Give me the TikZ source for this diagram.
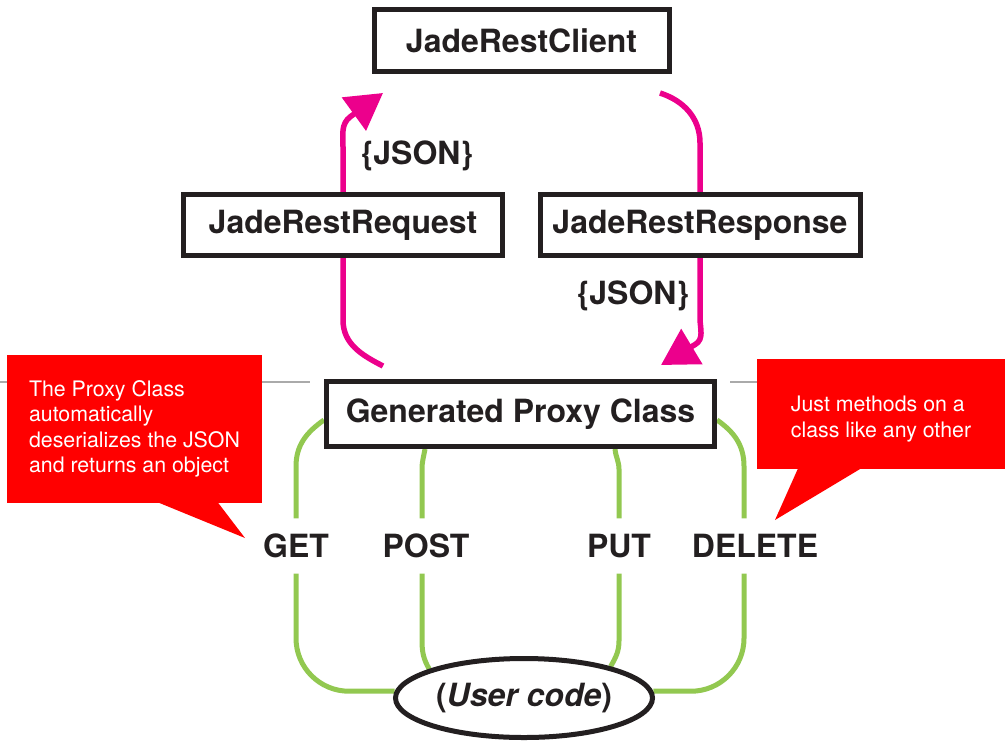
\documentclass[tikz,border=0pt]{standalone}
\usepackage{fontspec}
\setmainfont{TeX Gyre Heros}
\usetikzlibrary{arrows.meta,backgrounds,shapes.geometric}

\definecolor{inkblack}{RGB}{35,31,32}
\definecolor{jadepink}{RGB}{236,0,140}
\definecolor{jadegreen}{RGB}{146,200,80}
\definecolor{notered}{RGB}{255,0,0}
\definecolor{rulegray}{RGB}{170,170,170}

\tikzset{
    classbox/.style={rectangle,draw=inkblack,line width=0.05cm,fill=white,text=inkblack,
        font=\fontsize{9.1}{11}\selectfont\bfseries,inner sep=0pt},
    verblabel/.style={text=inkblack,font=\fontsize{9.1}{11}\selectfont\bfseries,
        minimum height=0.54cm,inner sep=0pt},
    jsonlabel/.style={text=inkblack,font=\fontsize{9.1}{11}\selectfont\bfseries,inner sep=0pt},
    notebox/.style={rectangle,fill=notered,text=white,align=left,inner sep=0pt,
        font=\fontsize{6.07}{7.2}\selectfont},
    pinkline/.style={draw=jadepink,line width=0.055cm},
    greenline/.style={draw=jadegreen,line width=0.05cm},
    bigtip/.style={-{Triangle[length=0.36cm,width=0.40cm]}}
}

\begin{document}
\begin{tikzpicture}
        \useasboundingbox (0,0) rectangle (10.05,7.44);
        \draw[rulegray,line width=0.02cm] (0,3.62) -- (3.10,3.62);
        \draw[rulegray,line width=0.02cm] (7.30,3.62) -- (10.05,3.62);

        \node[classbox,minimum width=2.95cm,minimum height=0.62cm] (client) at (5.215,7.035) {JadeRestClient};
        \node[classbox,minimum width=3.19cm,minimum height=0.61cm] (request) at (3.43,5.19) {JadeRestRequest};
        \node[classbox,minimum width=3.20cm,minimum height=0.61cm] (response) at (7.00,5.19) {JadeRestResponse};
        \node[classbox,minimum width=3.88cm,minimum height=0.65cm] (proxy) at (5.205,3.30) {Generated Proxy Class};
        \node[ellipse,draw=inkblack,line width=0.05cm,fill=white,minimum width=2.57cm,minimum height=0.79cm,
            inner sep=0pt,text=inkblack,font=\fontsize{9.1}{11}\selectfont\bfseries] (user) at (5.24,0.46) {(\textit{User code})};

        \node[jsonlabel] (jsonup) at (4.17,5.88) {\{JSON\}};
        \node[jsonlabel] (jsondown) at (6.33,4.48) {\{JSON\}};

        \node[verblabel] (get) at (2.96,1.98) {GET};
        \node[verblabel] (post) at (4.26,1.98) {POST};
        \node[verblabel] (put) at (6.19,1.98) {PUT};
        \node[verblabel] (delete) at (7.55,1.98) {DELETE};

        \coordinate (reqout) at (3.83,3.78);
        \coordinate (reqin) at (3.83,6.51);
        \coordinate (respout) at (6.60,6.51);
        \coordinate (respin) at (6.61,3.79);

        \begin{scope}[on background layer]
            % request and response
            \draw[pinkline] (reqout) to[out=153,in=-90] ++(-0.40,0.46) -- (request.south);
            \draw[pinkline,bigtip] (request.north) -- ++(0,0.45) to[out=90,in=216] (3.506,6.275) -- (reqin);
            \draw[pinkline] (respout) to[out=-18,in=90] ++(0.40,-0.50) -- (response.north);
            \draw[pinkline,bigtip] (response.south) -- ++(0,-0.60) to[out=-90,in=31] (6.953,3.996) -- (respin);
            % calls from the user code
            \draw[greenline] (get.north) -- ++(0,0.52) to[out=90,in=215] ([yshift=-0.06cm]proxy.west);
            \draw[greenline,rounded corners=0.53cm] (get.south) |- (user.177);
            \draw[greenline] ([xshift=-0.04cm]post.north) -- ++(0,0.49) to[out=90,in=-100] ([xshift=-0.955cm]proxy.south);
            \draw[greenline] ([xshift=-0.04cm]post.south) -- ++(0,-0.67) to[out=-90,in=120] (user.163);
            \draw[greenline] (put.north) -- ++(0,0.49) to[out=90,in=-85] ([xshift=0.945cm]proxy.south);
            \draw[greenline] (put.south) -- ++(0,-0.67) to[out=-90,in=60] (user.20);
            \draw[greenline] ([xshift=-0.11cm]delete.north) -- ++(0,0.52) to[out=90,in=-35] ([yshift=-0.06cm]proxy.east);
            \draw[greenline,rounded corners=0.53cm] ([xshift=-0.11cm]delete.south) |- (user.3);
        \end{scope}

        % notes
        \node[notebox,minimum width=2.55cm,minimum height=1.48cm] (proxynote) at (1.345,3.15)
            {The Proxy Class\\automatically\\deserializes the JSON\\and returns an object};
        \fill[notered] ([xshift=1.50cm,yshift=0.02cm]proxynote.south west) -- (2.45,2.06)
            -- ([xshift=2.11cm,yshift=0.02cm]proxynote.south west) -- cycle;
        \node[notebox,minimum width=2.48cm,minimum height=1.10cm] (methodnote) at (8.81,3.30)
            {\rule{0pt}{0.255cm}Just methods on a\\class like any other};
        \fill[notered] ([xshift=0.42cm,yshift=0.02cm]methodnote.south west) -- (7.75,2.24)
            -- ([xshift=1.06cm,yshift=0.02cm]methodnote.south west) -- cycle;
\end{tikzpicture}
\end{document}
